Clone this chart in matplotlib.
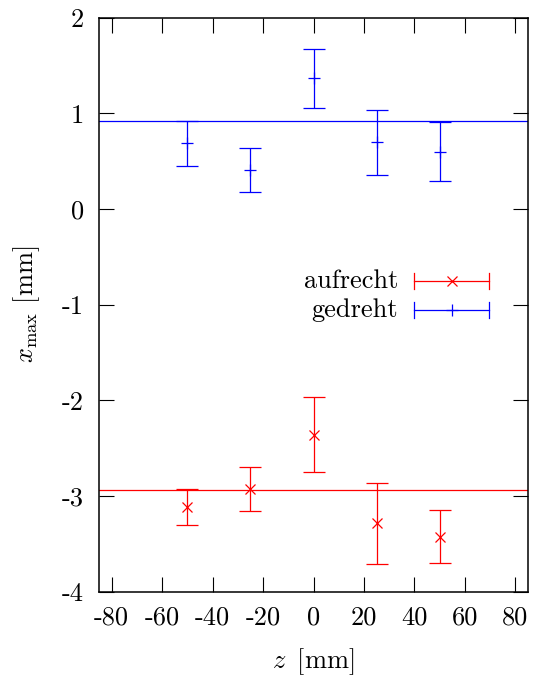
import matplotlib
matplotlib.use("Agg")
import matplotlib.pyplot as plt
from matplotlib.lines import Line2D

plt.rcParams["font.family"] = ["cmr10", "DejaVu Serif"]
plt.rcParams["mathtext.fontset"] = "cm"
plt.rcParams["axes.unicode_minus"] = False

# Measurement positions along z [mm]
z = [-50, -25, 0, 25, 50]

# Orientation "aufrecht"
x_aufrecht = [-3.117, -2.930, -2.359, -3.286, -3.428]
err_aufrecht = [0.190, 0.227, 0.387, 0.425, 0.278]
fit_aufrecht = -2.94

# Orientation "gedreht"
x_gedreht = [0.686, 0.411, 1.365, 0.695, 0.598]
err_gedreht = [0.237, 0.230, 0.310, 0.343, 0.309]
fit_gedreht = 0.916

xticks = [-80, -60, -40, -20, 0, 20, 40, 60, 80]
yticks = [-4, -3, -2, -1, 0, 1, 2]
labels = ["aufrecht", "gedreht"]

FS = 19

fig = plt.figure(figsize=(5.39, 6.79), dpi=100)
ax = fig.add_axes([99 / 539, 1 - 591.5 / 679, 429 / 539, 574 / 679])

series = [
    (x_aufrecht, err_aufrecht, fit_aufrecht, "red", "x", 6.5),
    (x_gedreht, err_gedreht, fit_gedreht, "blue", "+", 9),
]
for vals, errs, fit, col, mk, ms in series:
    ax.errorbar(z, vals, yerr=errs, fmt=mk, color=col, ms=ms, mew=0.9,
                elinewidth=0.9, capsize=8, capthick=0.9)
    ax.axhline(fit, color=col, lw=0.9)

ax.set_xlim(-85, 85)
ax.set_ylim(-4, 2)
ax.set_xticks(xticks)
ax.set_xticklabels([str(v) for v in xticks])
ax.set_yticks(yticks)
ax.set_yticklabels([str(v) for v in yticks])
ax.tick_params(direction="in", length=11, width=0.8, top=True, right=True,
               labelsize=FS, colors="black")
ax.tick_params(axis="x", pad=10)
ax.tick_params(axis="y", pad=11)
for sp in ax.spines.values():
    sp.set_linewidth(1.1)

ax.set_xlabel(r"$z\,$ [mm]", fontsize=FS, labelpad=12)
ax.set_ylabel(r"$x_\mathrm{max}$ [mm]", fontsize=FS, labelpad=14)

# Key in gnuplot style: label right-aligned, sample with end caps and symbol
key_rows = [(0.5415, "red", "x", 6.5), (0.4904, "blue", "+", 9)]
x0, x1, xm, xt = 0.734, 0.909, 0.822, 0.697
cap = 0.014
for (yk, col, mk, ms), lab in zip(key_rows, labels):
    ax.add_line(Line2D([x0, x1], [yk, yk], color=col, lw=0.9, transform=ax.transAxes))
    for xc in (x0, x1):
        ax.add_line(Line2D([xc, xc], [yk - cap, yk + cap], color=col, lw=0.9,
                           transform=ax.transAxes))
    ax.add_line(Line2D([xm], [yk], marker=mk, ms=ms, mew=0.9, color=col,
                       transform=ax.transAxes))
    ax.text(xt, yk, lab, transform=ax.transAxes, ha="right", va="center",
            fontsize=FS)

fig.savefig("out.png", dpi=100)
